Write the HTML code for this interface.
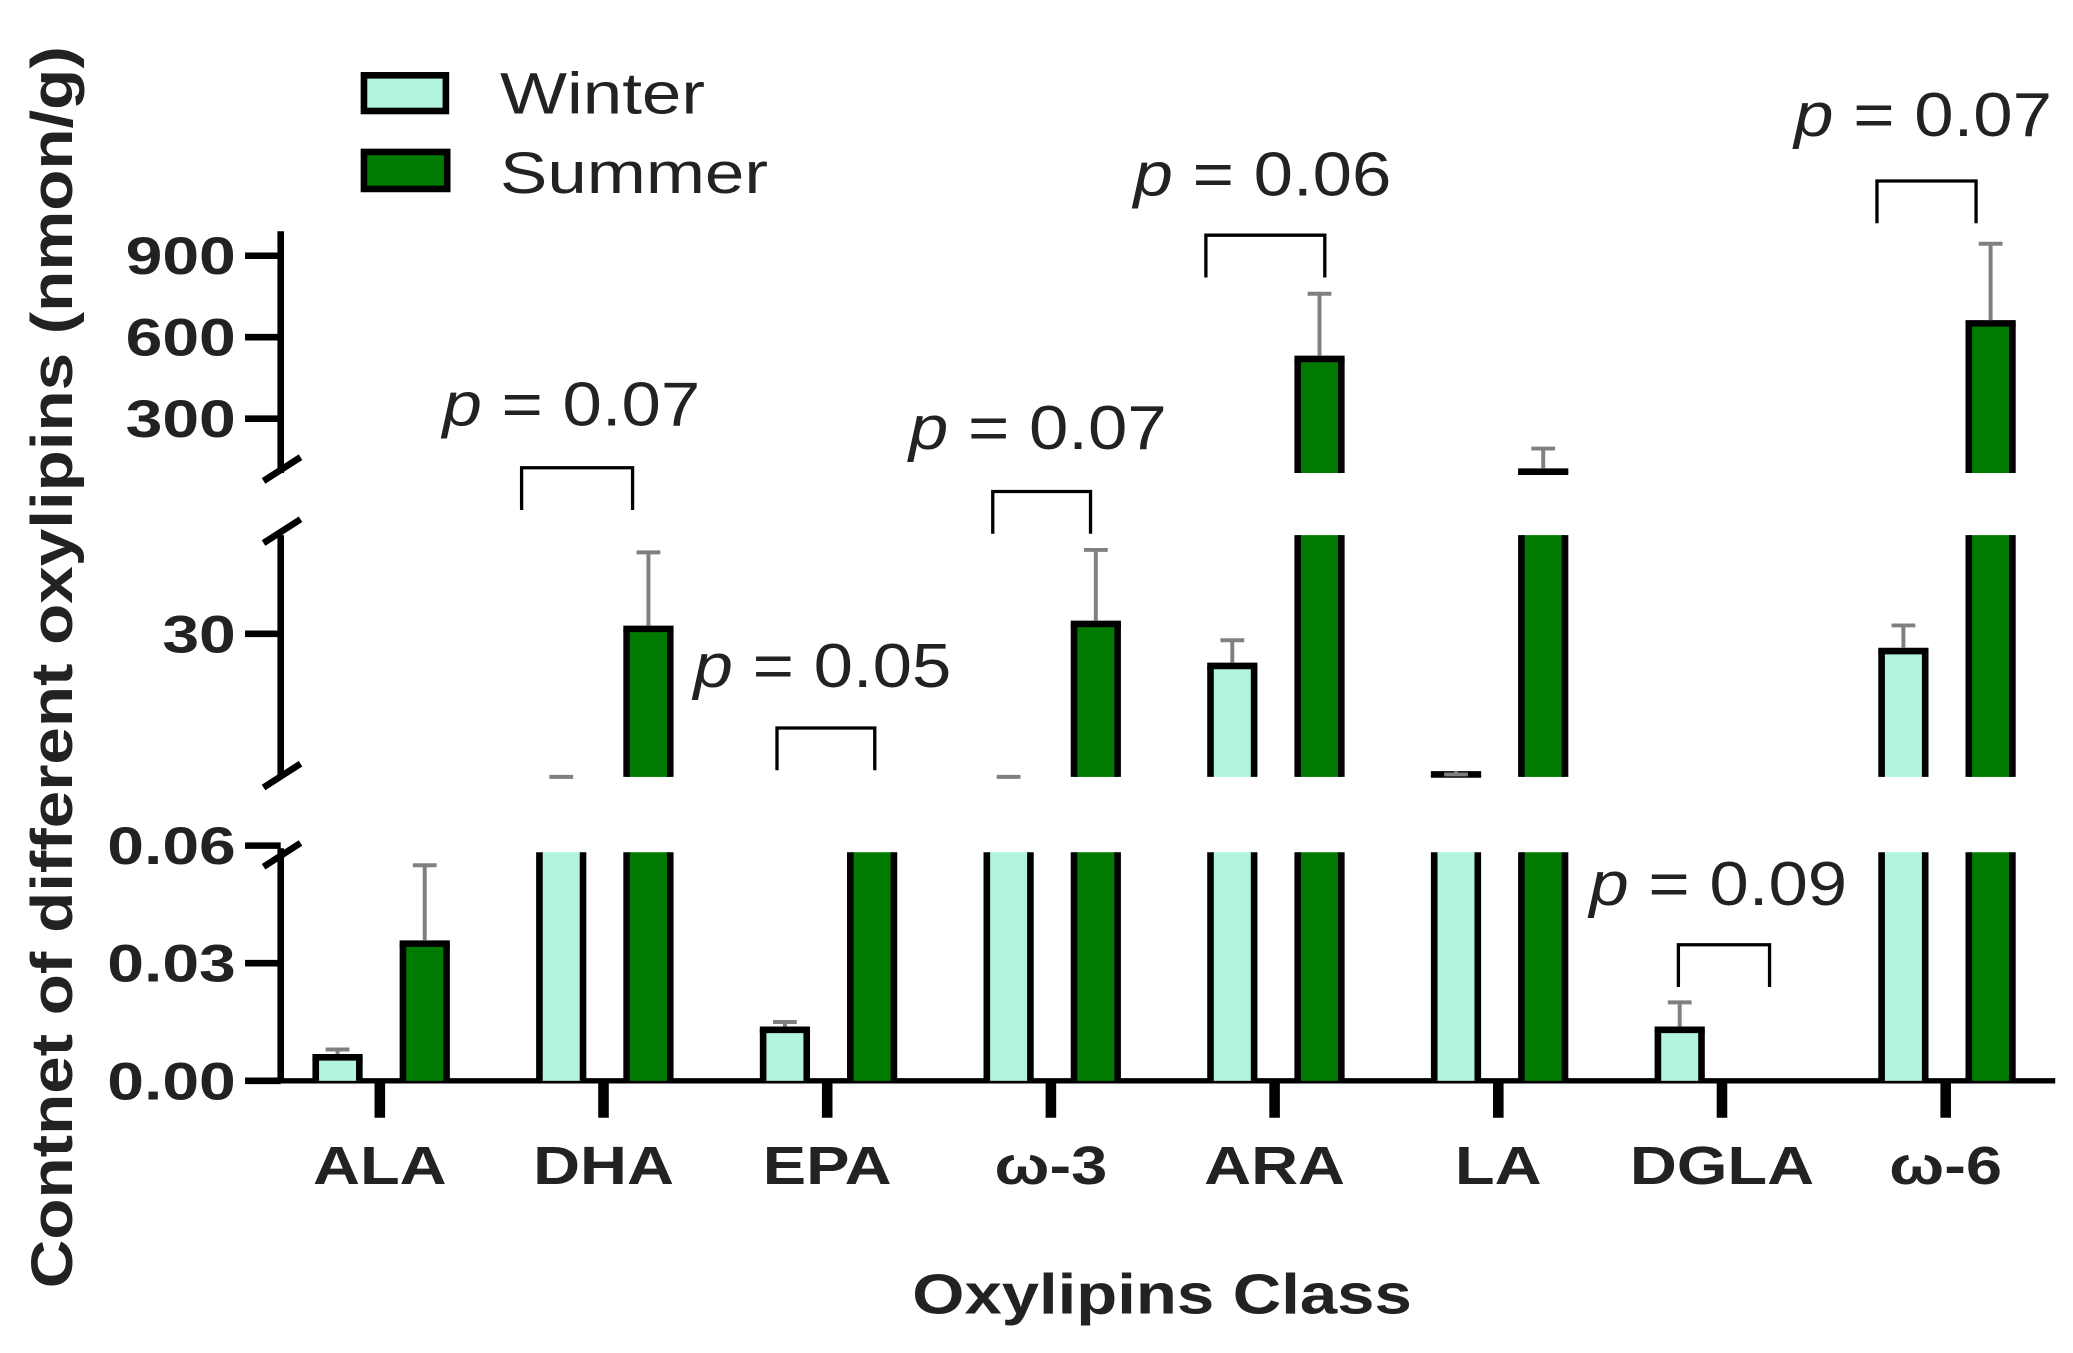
<!DOCTYPE html>
<html><head><meta charset="utf-8"><style>
html,body{margin:0;padding:0;background:#fff;}
svg{display:block;}
text{font-family:"Liberation Sans",Arial,sans-serif;}
</style></head><body>
<svg id="chart" xmlns="http://www.w3.org/2000/svg" width="2073" height="1353" viewBox="0 0 1568 1024">
<g id="axes"></g>
<g id="bars"></g>
<g id="annot"></g>
<g>
  <rect x="275" y="57" width="62" height="27" fill="#b3f5dc" stroke="#000" stroke-width="5"/>
  <text class="st" data-f="1.22" x="378" y="86" font-size="44" fill="#222">Winter</text>
  <rect x="275" y="115" width="63" height="28" fill="#007a00" stroke="#000" stroke-width="5"/>
  <text class="st" data-f="1.22" x="378" y="146" font-size="44" fill="#222">Summer</text>
</g>
<text x="690" y="994" font-size="43" font-weight="bold" fill="#222" textLength="378" lengthAdjust="spacingAndGlyphs">Oxylipins Class</text>
<text transform="translate(54,975) rotate(-90)" font-size="44" fill="#222" font-weight="bold" textLength="940" lengthAdjust="spacingAndGlyphs">Contnet of different oxylipins (nmon/g)</text>
</svg>
<script>
const categories = ["ALA","DHA","EPA","ω-3","ARA","LA","DGLA","ω-6"];
const winterValues = [0.006, 0.3, 0.013, 0.3, 23.5, 1.5, 0.013, 26.5];
const winterErrors = [0.008, 1.0, 0.015, 1.0, 28.7, 1.5, 0.02, 31.7];
const summerValues = [0.035, 31, 0.5, 32, 520, 105, 0, 651];
const summerErrors = [0.055, 46.5, 0.5, 47, 760, 190, 0, 944];
const pLabels = ["", "p = 0.07", "p = 0.05", "p = 0.07", "p = 0.06", "", "p = 0.09", "p = 0.07"];
const tickLabelsBottom = ["0.00","0.03","0.06"];
const tickValuesBottom = [0, 0.03, 0.06];
const tickLabelsMid = ["30"];
const tickValuesMid = [30];
const tickLabelsTop = ["300","600","900"];
const tickValuesTop = [300, 600, 900];

const NS="http://www.w3.org/2000/svg";
const segs=[
 {lo:0, hi:0.06, yb:818, yt:640, clip:645},
 {lo:1, hi:50, yb:588, yt:405, clip:405},
 {lo:100, hi:1000, yb:358, yt:173, clip:173}
];
function segY(s,v){return s.yb-(v-s.lo)/(s.hi-s.lo)*(s.yb-s.yt);}
function segOf(v){for(let i=segs.length-1;i>=0;i--){if(v>=segs[i].lo)return i;}return -1;}
const x0=212, x1=1555, gStart=287, gStep=169.3;
function xc(i){return gStart+i*gStep;}
function mk(tag,attrs,parent){const e=document.createElementNS(NS,tag);for(const k in attrs)e.setAttribute(k,attrs[k]);parent.appendChild(e);return e;}
const axes=document.getElementById('axes'), bars=document.getElementById('bars'), annot=document.getElementById('annot');

[[818,642],[588,405],[358,175]].forEach((a,i)=>{
 const l=mk('line',{x1:x0,y1:a[0]+(i?0:2),x2:x0,y2:a[1],stroke:'#000','stroke-width':5},axes);
 
 
});
[[650],[590],[405],[358]].forEach(b=>{
 const l=mk('line',{x1:x0-13,y1:b[0]+6,x2:x0+15,y2:b[0]-12,stroke:'#000','stroke-width':5},axes);
 
 
});
const bl=mk('line',{x1:x0-2,y1:818,x2:x1,y2:818,stroke:'#000','stroke-width':4},axes);


function ticks(vals,labs,s){vals.forEach((v,i)=>{const y=segY(s,v);
 const t=mk('line',{x1:x0-27,y1:y,x2:x0,y2:y,stroke:'#000','stroke-width':5},axes);
 
 
 const tx=mk('text',{x:178,y:y+14,'font-size':40,'font-weight':'bold','text-anchor':'end',fill:'#222',class:'st','data-f':'1.25'},axes);
 tx.textContent=labs[i];
 
 
});}
ticks(tickValuesBottom,tickLabelsBottom,segs[0]);
ticks(tickValuesMid,tickLabelsMid,segs[1]);
ticks(tickValuesTop,tickLabelsTop,segs[2]);

categories.forEach((c,i)=>{
 const t=mk('line',{x1:xc(i),y1:818,x2:xc(i),y2:846,stroke:'#000','stroke-width':8},axes);
 
 
 const tx=mk('text',{x:xc(i),y:896,'font-size':41,'font-weight':'bold','text-anchor':'middle',fill:'#222',class:'st','data-f':'1.2'},axes);
 tx.textContent=c;
 
 
});

function drawBar(cx,v,err,fill,name){
 const w=33,L=cx-w/2,R=cx+w/2;
 if(v<=0)return;
 const si=segOf(v);
 for(let k=0;k<=si;k++){const s=segs[k];
  let top, ended=false;
  if(k<si) top=s.clip;
  else { if(v>s.hi){top=s.clip;} else {top=segY(s,v); ended=true;} }
  const bot=s.yb;
  const r=mk('rect',{x:L,y:top,width:w,height:Math.max(bot-top,0.5),fill:fill},bars);
  
  
  mk('line',{x1:L,y1:top,x2:L,y2:bot,stroke:'#000','stroke-width':5},bars);
  mk('line',{x1:R,y1:top,x2:R,y2:bot,stroke:'#000','stroke-width':5},bars);
  if(ended) mk('line',{x1:L-2.5,y1:top,x2:R+2.5,y2:top,stroke:'#000','stroke-width':5},bars);
 }
 if(err>0){const ei=segOf(err);const s=segs[ei];
  if(err>s.hi) return;
  const ye=segY(s,err); const yv= (ei===si && v<=s.hi)? segY(s,v)-2.5 : s.yb;
  if(ye>=yv && ei===si && v<=s.hi && err>v) return;
  const e=mk('line',{x1:cx,y1:yv,x2:cx,y2:ye,stroke:'#808080','stroke-width':3},bars);
  
  
  mk('line',{x1:cx-9,y1:ye,x2:cx+9,y2:ye,stroke:'#808080','stroke-width':3},bars);
 }
}
categories.forEach((c,i)=>{
 drawBar(xc(i)-32,winterValues[i],winterErrors[i],'#b3f5dc','bar-winter-'+c);
 drawBar(xc(i)+34,summerValues[i],summerErrors[i],'#007a00','bar-summer-'+c);
});

const brLeft=[0,-62,-38,-44,-52,0,-33,-52];
const brRight=[0,22,36,30,38,0,36,23];
const brTop=[0,354,551,372,178,0,715,137];
const txX=[0,432,622,785,955,0,1300,1455];
const txY=[0,322,520,340,148,0,685,103];
categories.forEach((c,i)=>{
 if(!pLabels[i])return;
 const a=xc(i)+brLeft[i], b=xc(i)+brRight[i], y=brTop[i];
 const p=mk('path',{d:`M${a},${y+32}V${y}H${b}V${y+32}`,fill:'none',stroke:'#000','stroke-width':2.5},annot);
 
 
 const t=mk('text',{x:txX[i],y:txY[i],'font-size':47,'text-anchor':'middle',fill:'#222',class:'st','data-f':'1.14'},annot);
 t.innerHTML='<tspan font-style="italic">p</tspan> = '+pLabels[i].split('= ')[1];
 
 
});
document.querySelectorAll('text.st').forEach(t=>{
 const f=parseFloat(t.getAttribute('data-f'));
 const w=t.getComputedTextLength();
 t.setAttribute('textLength',(w*f).toFixed(1));
 t.setAttribute('lengthAdjust','spacingAndGlyphs');
});
</script>
</body></html>
